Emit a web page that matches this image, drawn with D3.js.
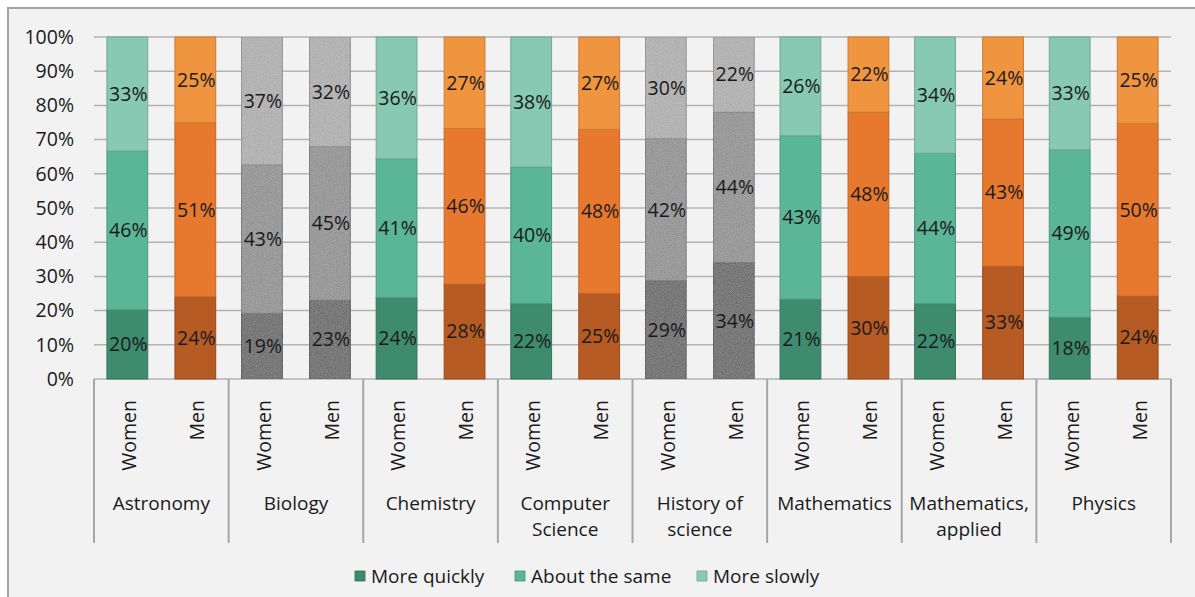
<!DOCTYPE html>
<html>
<head>
<meta charset="utf-8">
<script src="https://cdn.jsdelivr.net/npm/d3@7/dist/d3.min.js"></script>
<style>
  html, body { margin: 0; padding: 0; background: #ffffff; }
  svg { display: block; }
  text { font-family: "Open Sans", "Noto Sans", sans-serif; fill: #1a1a1a; }
</style>
</head>
<body>
<svg id="chart" width="1195" height="597"></svg>
<script>
// Fields of study and their label lines
const fields = ["Astronomy", "Biology", "Chemistry", "Computer Science",
  "History of science", "Mathematics", "Mathematics, applied", "Physics"];
const fieldLines = [["Astronomy"], ["Biology"], ["Chemistry"], ["Computer", "Science"],
  ["History of", "science"], ["Mathematics"], ["Mathematics,", "applied"], ["Physics"]];
const genders = ["Women", "Men"];
// Fields drawn in grey
const greyFields = ["Biology", "History of science"];

const seriesNames = ["More quickly", "About the same", "More slowly"];

// Responses in %, ordered field by field, Women then Men
const moreQuickly  = [20, 24, 19, 23, 24, 28, 22, 25, 29, 34, 21, 30, 22, 33, 18, 24];
const aboutSame    = [46, 51, 43, 45, 41, 46, 40, 48, 42, 44, 43, 48, 44, 43, 49, 50];
const moreSlowly   = [33, 25, 37, 32, 36, 27, 38, 27, 30, 22, 26, 22, 34, 24, 33, 25];

const yTicks = [0, 0.1, 0.2, 0.3, 0.4, 0.5, 0.6, 0.7, 0.8, 0.9, 1.0];

const palette = {
  Women: ["#3f8b6f", "#5bb597", "#87c9b2"],
  Men:   ["#b65b24", "#e7792f", "#f0953f"],
  grey:  ["#7a7a7a", "#9b9b9b", "#b4b4b4"]
};
const legendColors = ["#3d8a6c", "#5ab598", "#8bcbb4"];

const rows = [];
fields.forEach((f, i) => {
  genders.forEach((g, j) => {
    const k = i * 2 + j;
    rows.push({ field: f, gender: g, q: moreQuickly[k], s: aboutSame[k], l: moreSlowly[k] });
  });
});

const svg = d3.select("#chart");
const FS = 19.5;

// Grain used on the grey columns
const defs = svg.append("defs");
const grain = defs.append("filter").attr("id", "grain").attr("x", 0).attr("y", 0).attr("width", 1).attr("height", 1);
grain.append("feTurbulence").attr("type", "fractalNoise").attr("baseFrequency", 0.9).attr("numOctaves", 2).attr("seed", 3).attr("result", "noise");
grain.append("feColorMatrix").attr("in", "noise").attr("type", "matrix")
  .attr("values", "0.33 0.33 0.33 0 0  0.33 0.33 0.33 0 0  0.33 0.33 0.33 0 0  0 0 0 0 1").attr("result", "gnoise");
grain.append("feComposite").attr("in", "SourceGraphic").attr("in2", "gnoise").attr("operator", "arithmetic")
  .attr("k1", 0).attr("k2", 1).attr("k3", 0.3).attr("k4", -0.15).attr("result", "mixed");
grain.append("feComposite").attr("in", "mixed").attr("in2", "SourceGraphic").attr("operator", "in");

// Chart frame
svg.append("rect").attr("x", 8).attr("y", 8).attr("width", 1195).attr("height", 600)
  .attr("fill", "#f2f2f2").attr("stroke", "#a3a3a3").attr("stroke-width", 2);

const plot = { left: 94, right: 1171, top: 37, bottom: 379 };

const x0 = d3.scaleBand().domain(fields).range([plot.left, plot.right]).padding(0);
const x1 = d3.scaleBand().domain(genders).range([0, x0.bandwidth()]).paddingInner(0.4).paddingOuter(0.19);
const y = d3.scaleLinear().domain([0, 1]).range([plot.bottom, plot.top]);

// Gridlines
svg.append("g").selectAll("line").data(yTicks).join("line")
  .attr("x1", plot.left).attr("x2", plot.right)
  .attr("y1", d => y(d)).attr("y2", d => y(d))
  .attr("stroke", "#b3b3b3").attr("stroke-width", 1.5);

// Y axis labels
const yAxis = d3.axisLeft(y).tickValues(yTicks).tickFormat(d3.format(".0%")).tickSize(0).tickPadding(0);
const yg = svg.append("g").attr("transform", `translate(74,0)`).call(yAxis);
yg.select(".domain").remove();
yg.selectAll("text").attr("font-size", FS).attr("fill", "#1a1a1a")
  .style("font-family", "'Open Sans', sans-serif");

// 100% stacked columns
const stack = d3.stack().keys(["q", "s", "l"]).offset(d3.stackOffsetExpand);
const stacked = stack(rows);

const barG = svg.append("g");
stacked.forEach((layer, li) => {
  layer.forEach((d, ri) => {
    const r = rows[ri];
    const isGrey = greyFields.includes(r.field);
    const fill = isGrey ? palette.grey[li] : palette[r.gender][li];
    const bx = x0(r.field) + x1(r.gender);
    const rect = barG.append("rect")
      .attr("x", bx).attr("width", x1.bandwidth())
      .attr("y", y(d[1])).attr("height", y(d[0]) - y(d[1]))
      .attr("fill", fill)
      .attr("stroke", d3.color(fill).darker(0.5))
      .attr("stroke-width", 1);
    if (isGrey) rect.attr("filter", "url(#grain)");
  });
});

// Value labels
const labG = svg.append("g");
stacked.forEach((layer, li) => {
  const key = layer.key;
  layer.forEach((d, ri) => {
    const r = rows[ri];
    labG.append("text")
      .attr("x", x0(r.field) + x1(r.gender) + x1.bandwidth() / 2 + 1)
      .attr("y", y((d[0] + d[1]) / 2))
      .attr("dy", "0.35em")
      .attr("text-anchor", "middle")
      .attr("font-size", FS)
      .text(r[key] + "%");
  });
});

// Category axis: group separators
const sepX = fields.map(f => x0(f)).concat([plot.right]);
svg.append("g").selectAll("line").data(sepX).join("line")
  .attr("x1", d => d).attr("x2", d => d)
  .attr("y1", plot.bottom).attr("y2", 543)
  .attr("stroke", "#a6a6a6").attr("stroke-width", 2);

// Gender labels (rotated)
const gG = svg.append("g");
rows.forEach(r => {
  const cx = x0(r.field) + x1(r.gender) + x1.bandwidth() / 2 + 2;
  gG.append("text")
    .attr("transform", `translate(${cx},400) rotate(-90)`)
    .attr("text-anchor", "end")
    .attr("dy", "0.35em")
    .attr("font-size", FS)
    .text(r.gender);
});

// Field labels
const fG = svg.append("g");
fields.forEach((f, i) => {
  const t = fG.append("text")
    .attr("x", x0(f) + x0.bandwidth() / 2)
    .attr("y", 503)
    .attr("text-anchor", "middle")
    .attr("font-size", 19);
  fieldLines[i].forEach((line, li) => {
    t.append("tspan").attr("x", x0(f) + x0.bandwidth() / 2).attr("dy", li === 0 ? "0.35em" : 26).text(line);
  });
});

// Legend
const legendX = [355, 515, 697];
const lg = svg.append("g");
seriesNames.forEach((name, i) => {
  lg.append("rect").attr("x", legendX[i]).attr("y", 571).attr("width", 10).attr("height", 10)
    .attr("fill", legendColors[i]).attr("stroke", d3.color(legendColors[i]).darker(0.6)).attr("stroke-width", 0.8);
  lg.append("text").attr("x", legendX[i] + 16).attr("y", 576).attr("dy", "0.35em")
    .attr("font-size", 19).text(name);
});
</script>
</body>
</html>
